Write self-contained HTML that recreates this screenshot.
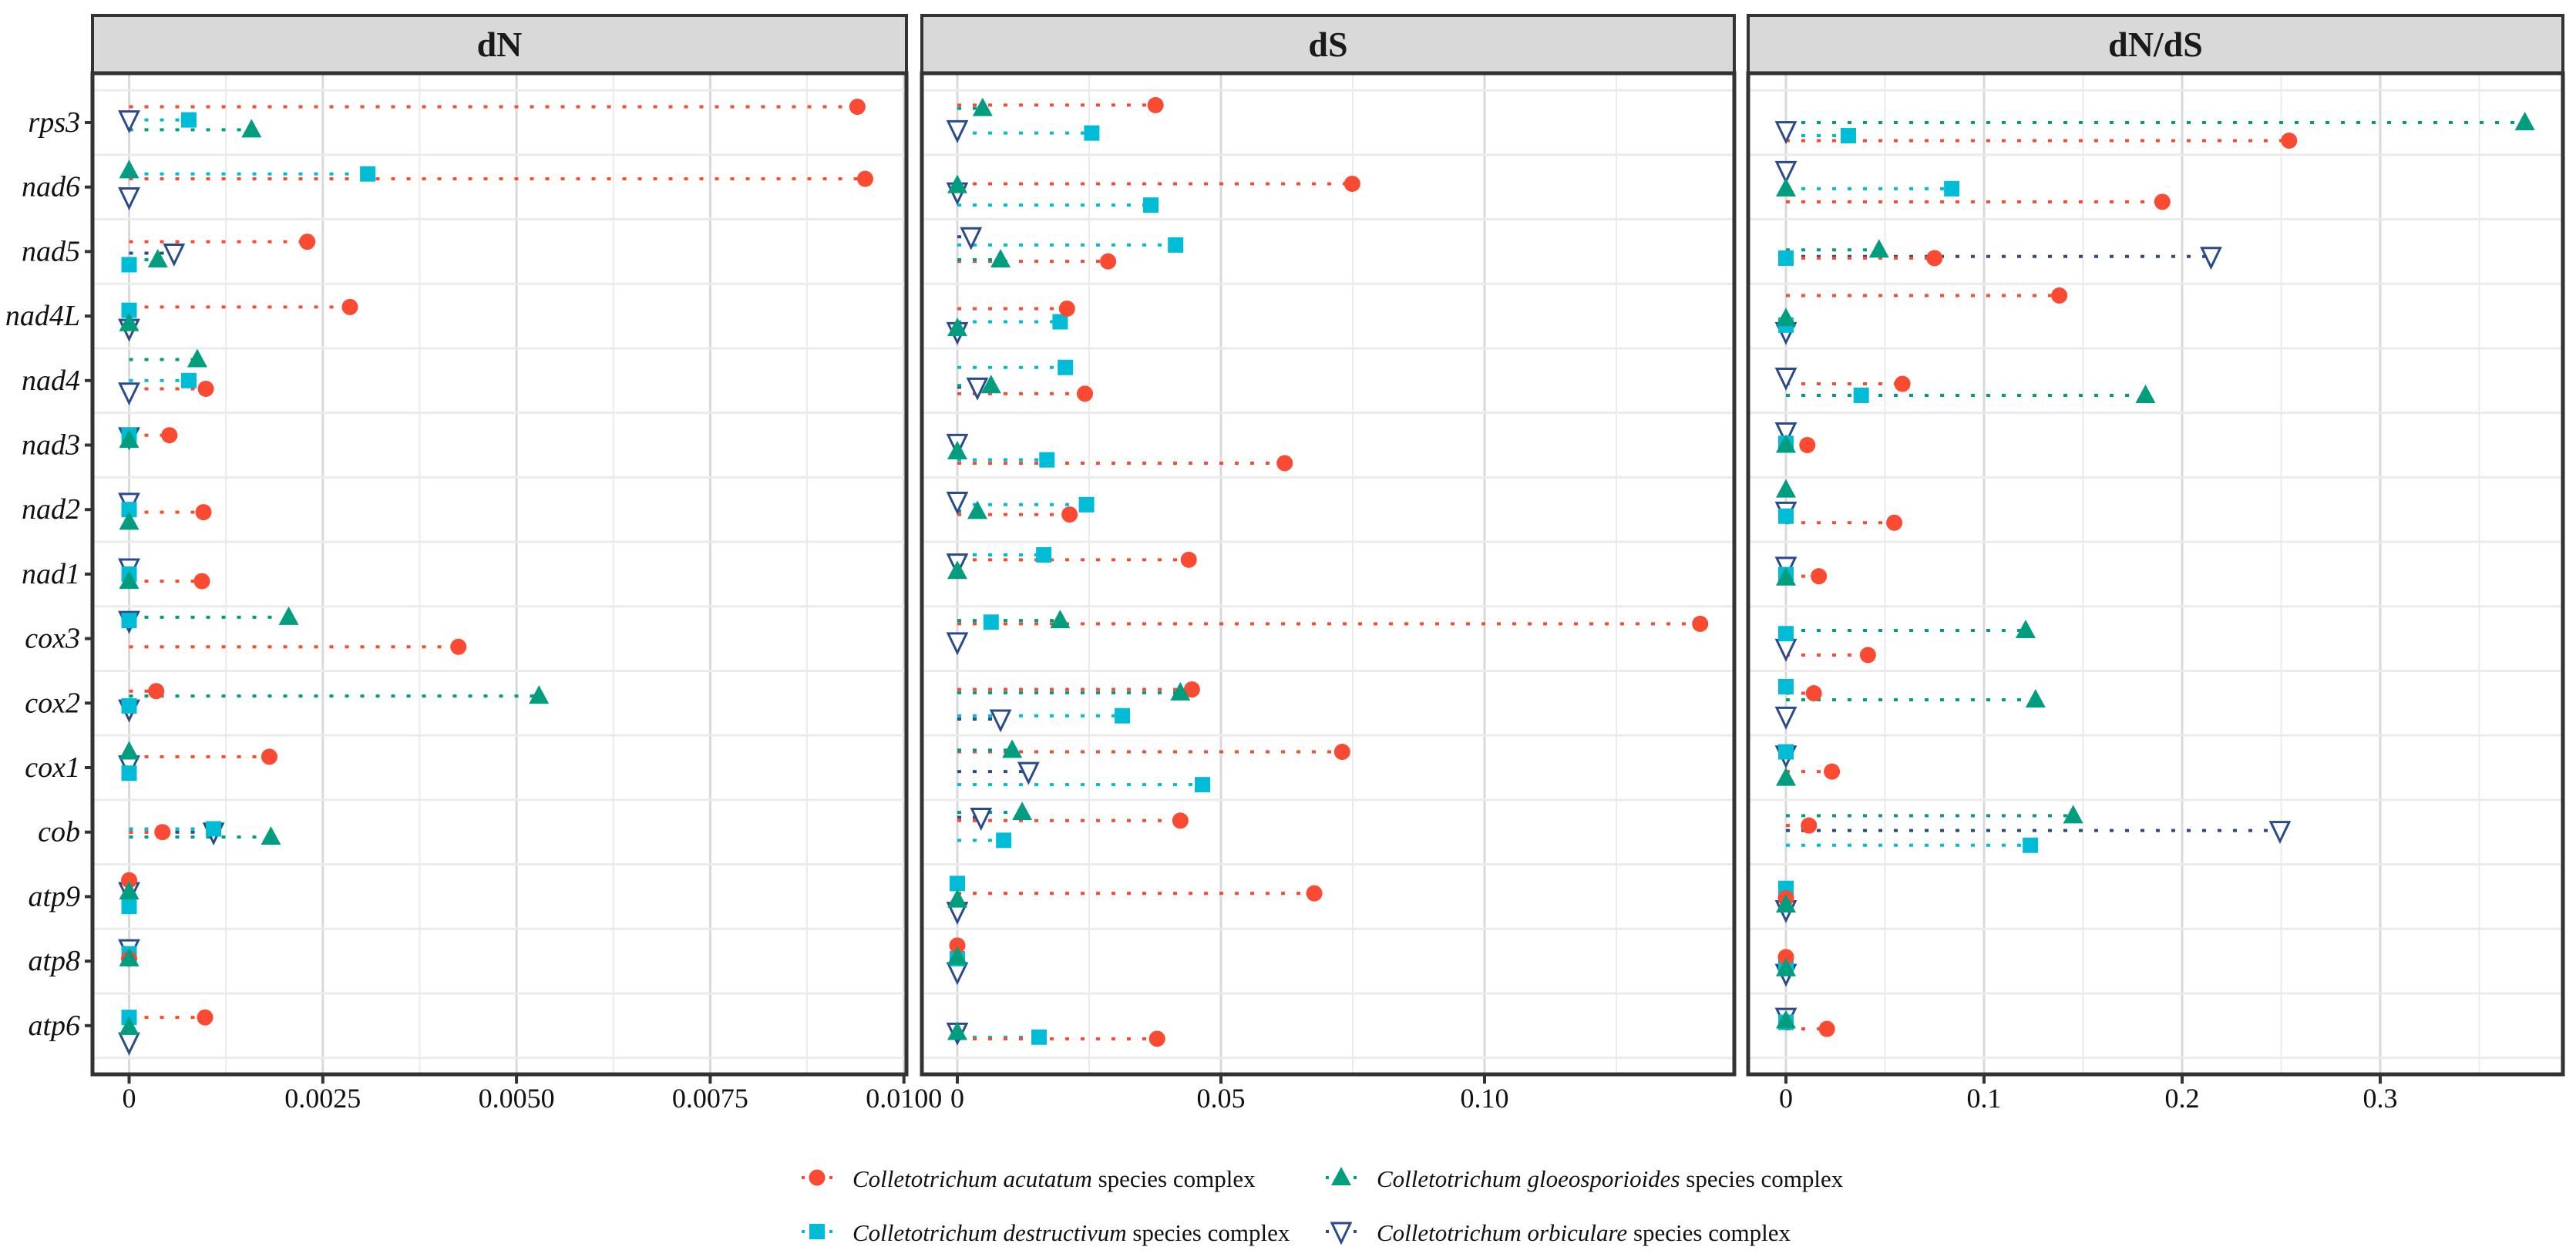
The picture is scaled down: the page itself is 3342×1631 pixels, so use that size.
<!DOCTYPE html>
<html><head><meta charset="utf-8"><style>
html,body{margin:0;padding:0;background:#fff}
svg{display:block}
text{font-family:"Liberation Serif",serif}
</style></head><body>
<svg id="chart" width="3342" height="1631" viewBox="0 0 3342 1631" xmlns="http://www.w3.org/2000/svg"></svg>
<script>
const genes = ["rps3","nad6","nad5","nad4L","nad4","nad3","nad2","nad1","cox3","cox2","cox1","cob","atp9","atp8","atp6"];
const seriesNames = ["acutatum","destructivum","gloeosporioides","orbiculare"];
const dN_acutatum = [0.0094,0.0095,0.0023,0.00285,0.00099,0.00052,0.00096,0.00094,0.00425,0.00035,0.00181,0.00043,0,0,0.00098];
const dN_destructivum = [0.00077,0.00308,0,0,0.00077,0,0,0,0,0,0,0.00109,0,0,0];
const dN_gloeo = [0.00158,0,0.00037,0,0.00088,0,0,0,0.00206,0.00529,0,0.00183,0,0,0];
const dN_orbiculare = [0,0,0.00058,0,0,0,0,0,0,0,0,0.00109,0,0,0];
const dS_acutatum = [0.0376,0.0749,0.0286,0.0208,0.0242,0.0621,0.0213,0.0439,0.1409,0.0445,0.0730,0.0423,0.0677,0,0.0379];
const dS_destructivum = [0.0255,0.0367,0.0414,0.0195,0.0205,0.0170,0.0245,0.0164,0.0064,0.0313,0.0465,0.0088,0,0,0.0155];
const dS_gloeo = [0.0048,0,0.0082,0,0.0064,0,0.0038,0,0.0195,0.0423,0.0104,0.0123,0,0,0];
const dS_orbiculare = [0,0,0.0026,0,0.0038,0,0,0,0,0.0082,0.0135,0.0045,0,0,0];
const dNdS_acutatum = [0.254,0.190,0.075,0.138,0.0588,0.0108,0.0547,0.0166,0.0414,0.0141,0.0232,0.0116,0,0,0.0207];
const dNdS_destructivum = [0.0315,0.0837,0,0,0.038,0,0,0,0,0,0,0.1234,0,0,0];
const dNdS_gloeo = [0.373,0,0.047,0,0.1815,0,0,0,0.121,0.126,0,0.145,0,0,0];
const dNdS_orbiculare = [0,0,0.2146,0,0,0,0,0,0,0,0,0.2494,0,0,0];
// dodge offsets (1/40 of a row)
const dN_dodge_acu = [-9.6,-5,-6,-5.5,5,-6,1.6,4.3,5,-7.3,-6.6,0,-10,-1.5,-5];
const dN_dodge_des = [-1.6,-8,8,-3.5,0,-6,0,0,-11,1.7,3.4,-2,6,-4.5,-5];
const dN_dodge_glo = [4.4,-10,5,4.5,-12.8,-3,7.6,4.3,-13,-4.3,-9.6,3,-3,-1.5,1];
const dN_dodge_orb = [-1.6,6,1,7.5,7,-5,-4.4,-3.7,-11,3.7,-1.6,0,-3,-7.5,10];
const dS_dodge_acu = [-10.6,-2,6,-4.5,8,11,3,-8.7,-9,-8.3,-9.6,-7,-2,-9.5,8];
const dS_dodge_des = [6.4,11,-4,3.5,-8,9,-3,-11.7,-10,7.7,10.4,5,-8,-1.5,7];
const dS_dodge_glo = [-8.6,-1,5,7.5,3,4,1,-1.7,-11,-6.3,-10.6,-12,2,-2.5,4];
const dS_dodge_orb = [4.4,3,-9,9.5,4,-1,-5,-6.7,2,9.7,2.4,-9,9,6.5,4];
const dNdS_dodge_acu = [11,9,4,-12.5,2,0,8,1.3,10,-6,2.4,-4,1,-2.5,2];
const dNdS_dodge_des = [8,1,4,5.5,9,-1,4,0.3,-3,-10,-9.6,8,-5,3.5,-2];
const dNdS_dodge_glo = [0,1,-1,1.5,9,0,-12,2.3,-5,-2,6.4,-10,5,4.5,-3];
const dNdS_dodge_orb = [5,-10,3,9.5,-2,-8,1,-4.7,6,8,-7.6,-1,8,7.5,-5];
const dN_ticks = [0,0.0025,0.005,0.0075,0.01];
const dN_tickLabels = ["0","0.0025","0.0050","0.0075","0.0100"];
const dS_ticks = [0,0.05,0.10];
const dS_tickLabels = ["0","0.05","0.10"];
const dNdS_ticks = [0,0.1,0.2,0.3];
const dNdS_tickLabels = ["0","0.1","0.2","0.3"];

const NS="http://www.w3.org/2000/svg";
const svg=document.getElementById('chart');
function mk(tag,attrs,parent){const e=document.createElementNS(NS,tag);for(const k in attrs)e.setAttribute(k,attrs[k]);(parent||svg).appendChild(e);return e;}
const COLORS={acutatum:"#FA4A31",destructivum:"#00BCD6",gloeosporioides:"#009E7F",orbiculare:"#2B4A8C"};
const TOP=95,BOTTOM=1394,ROW0=159,ROWH=83.7;
function yRow(i,d){return ROW0+i*ROWH+d*2.131;}

function marker(g,s,x,y){
  let e;
  if(s==="acutatum"){e=mk('ellipse',{cx:x,cy:y,rx:10.5,ry:10.5,fill:COLORS[s]},g);}
  else if(s==="destructivum"){e=mk('rect',{x:x-10,y:y-10,width:20,height:20,fill:COLORS[s]},g);}
  else if(s==="gloeosporioides"){e=mk('polygon',{points:`${x-13},${y+10} ${x+13},${y+10} ${x},${y-14}`,fill:COLORS[s]},g);}
  else {e=mk('polygon',{points:`${x-12},${y-11} ${x+12},${y-11} ${x},${y+14}`,fill:"#fff",stroke:COLORS[s],'stroke-width':3},g);}
  return e;
}

const panels=[
 {name:"dN",left:120,right:1176,x0:167.5,unit:0.0025,px:251.3,ticks:dN_ticks,labels:dN_tickLabels,minor:[-0.00125,0.00125,0.00375,0.00625,0.00875],
  vals:{acutatum:dN_acutatum,destructivum:dN_destructivum,gloeosporioides:dN_gloeo,orbiculare:dN_orbiculare},
  dodge:{acutatum:dN_dodge_acu,destructivum:dN_dodge_des,gloeosporioides:dN_dodge_glo,orbiculare:dN_dodge_orb}},
 {name:"dS",left:1196,right:2250,x0:1242,unit:0.05,px:342,ticks:dS_ticks,labels:dS_tickLabels,minor:[0.025,0.075,0.125],
  vals:{acutatum:dS_acutatum,destructivum:dS_destructivum,gloeosporioides:dS_gloeo,orbiculare:dS_orbiculare},
  dodge:{acutatum:dS_dodge_acu,destructivum:dS_dodge_des,gloeosporioides:dS_dodge_glo,orbiculare:dS_dodge_orb}},
 {name:"dN/dS",left:2268,right:3325,x0:2317,unit:0.1,px:257,ticks:dNdS_ticks,labels:dNdS_tickLabels,minor:[0.05,0.15,0.25,0.35],
  vals:{acutatum:dNdS_acutatum,destructivum:dNdS_destructivum,gloeosporioides:dNdS_gloeo,orbiculare:dNdS_orbiculare},
  dodge:{acutatum:dNdS_dodge_acu,destructivum:dNdS_dodge_des,gloeosporioides:dNdS_dodge_glo,orbiculare:dNdS_dodge_orb}}
];

panels.forEach((p,pi)=>{
  const slug=p.name.replace('/','-').toLowerCase();
  const g=mk('g',{});
  
  
  const xs=v=>p.x0+v/p.unit*p.px;
  // strip
  const strip=mk('rect',{x:p.left,y:20,width:p.right-p.left,height:TOP-20,fill:"#D9D9D9",stroke:"#333","stroke-width":4},g);
  
  
  const st=mk('text',{x:(p.left+p.right)/2,y:73,'text-anchor':'middle','font-size':46,'font-weight':'bold',fill:'#1a1a1a'},g);
  st.textContent=p.name;
  
  
  // grid
  p.minor.forEach(v=>{const x=xs(v);if(x>p.left&&x<p.right)mk('line',{x1:x,x2:x,y1:TOP,y2:BOTTOM,stroke:"#EBEBEB","stroke-width":2},g);});
  p.ticks.forEach(v=>{mk('line',{x1:xs(v),x2:xs(v),y1:TOP,y2:BOTTOM,stroke:"#D9D9D9","stroke-width":3},g);});
  for(let i=0;i<=genes.length;i++){const y=ROW0-ROWH/2+i*ROWH;mk('line',{x1:p.left,x2:p.right,y1:y,y2:y,stroke:"#EBEBEB","stroke-width":3},g);}
  // series lines then markers
  const order=["orbiculare","destructivum","acutatum","gloeosporioides"];
  order.forEach(s=>{
    genes.forEach((gn,i)=>{
      const v=p.vals[s][i];const y=yRow(i,p.dodge[s][i]);
      if(v>0){const l=mk('line',{x1:xs(0),x2:xs(v),y1:y,y2:y,stroke:COLORS[s],'stroke-width':4,'stroke-dasharray':'5 15'},g);
        
        }
    });
  });
  order.forEach(s=>{
    genes.forEach((gn,i)=>{
      const v=p.vals[s][i];const y=yRow(i,p.dodge[s][i]);
      const m=marker(g,s,xs(v),y);
      
      
    });
  });
  // border
  const b=mk('rect',{x:p.left,y:TOP,width:p.right-p.left,height:BOTTOM-TOP,fill:'none',stroke:'#333','stroke-width':5},g);
  
  
  // x ticks
  p.ticks.forEach((v,k)=>{
    mk('line',{x1:xs(v),x2:xs(v),y1:BOTTOM,y2:BOTTOM+12,stroke:'#333','stroke-width':4},g);
    const t=mk('text',{x:xs(v),y:1437,'text-anchor':'middle','font-size':36,fill:'#111'},g);
    t.textContent=p.labels[k];
    
    
  });
});
// y axis labels
genes.forEach((gn,i)=>{
  const y=ROW0+i*ROWH;
  mk('line',{x1:110,x2:120,y1:y,y2:y,stroke:'#333','stroke-width':4});
  const t=mk('text',{x:104,y:y+12,'text-anchor':'end','font-size':38,'font-style':'italic',fill:'#111'});
  t.textContent=gn;
  
  
});
// legend
const legend=mk('g',{});


const legendItems=[["acutatum",1060,1540],["gloeosporioides",1740,1540],["destructivum",1060,1610],["orbiculare",1740,1610]];
legendItems.forEach(([s,x,y])=>{
  const g=mk('g',{},legend);
  
  
  mk('line',{x1:x-22,x2:x+22,y1:y-12,y2:y-12,stroke:COLORS[s],'stroke-width':4,'stroke-dasharray':'4 14','stroke-dashoffset':-2},g);
  marker(g,s,x,y-12);
  const t=mk('text',{x:x+46,y:y,'font-size':31,fill:'#111'},g);
  const a=mk('tspan',{'font-style':'italic'},t);a.textContent='Colletotrichum '+s;
  const b=mk('tspan',{},t);b.textContent=' species complex';
});
</script>
</body></html>
